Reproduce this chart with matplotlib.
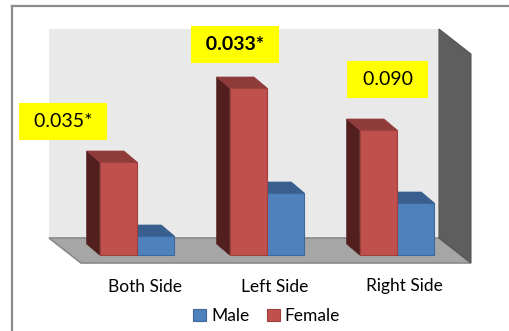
import matplotlib
matplotlib.use("Agg")
import matplotlib.pyplot as plt
from matplotlib.patches import Polygon, Rectangle
from matplotlib.lines import Line2D

plt.rcParams['font.family'] = ['Lato', 'DejaVu Sans']

# data (no value axis in the original, arbitrary units)
categories = ['Both Side', 'Left Side', 'Right Side']
female = [9.3, 16.7, 12.5]
male = [1.9, 6.2, 5.2]
p_labels = ['0.035*', '0.033*', '0.090']
p_bold = [False, True, False]

# colours
RED, RED_TOP, RED_SIDE, RED_EDGE = '#C0504D', '#8E3B39', '#521E1E', '#9E3F3C'
BLUE, BLUE_TOP, BLUE_SIDE, BLUE_EDGE = '#4F81BD', '#385F8E', '#2A4767', '#3B679C'

fig = plt.figure(figsize=(5.10, 3.31), dpi=100)
ax = fig.add_axes([0, 0, 1, 1])
ax.set_xlim(-1.0538, 2.8692)
ax.set_ylim(-7.6, 25.5)
ax.axis('off')

# outer chart frame (right/bottom edges are cut off in the original)
fig.add_artist(Line2D([12 / 510, 12 / 510], [0, 1 - 6 / 331], color='#8C8C8C', lw=1.6))
fig.add_artist(Line2D([12 / 510, 1], [1 - 6 / 331, 1 - 6 / 331], color='#8C8C8C', lw=1.6))

# 3d box: back wall, floor, right wall
wx0, wx1, wy0, wy1 = -0.677, 2.323, 1.7, 22.6
fdx, fdy = 0.246, -2.5
ax.add_patch(Rectangle((wx0, wy0), wx1 - wx0, wy1 - wy0, facecolor='#E9E9E9',
                       edgecolor='none', zorder=1))
ax.add_patch(Polygon([(wx0, wy0), (wx1, wy0), (wx1 + fdx, wy0 + fdy), (wx0 + fdx, wy0 + fdy)],
                     closed=True, facecolor='#A6A6A6', edgecolor='#8A8A8A', lw=1.2, zorder=2))
ax.add_patch(Polygon([(wx1, wy1), (wx1 + fdx, wy1 + fdy), (wx1 + fdx, wy0 + fdy), (wx1, wy0)],
                     closed=True, facecolor='#5E5E5E', edgecolor='#555555', lw=0.8, zorder=2))

# bars
w = 0.287
ddx, ddy = -0.1, 1.1
pos = list(range(len(categories)))


def bar3d(x0, h, front, top, side, edge, z):
    ax.bar(x0, h, width=w, align='edge', color=front, edgecolor=edge, lw=0.8, zorder=z + 0.2)
    ax.add_patch(Polygon([(x0, h), (x0 + w, h), (x0 + w + ddx, h + ddy), (x0 + ddx, h + ddy)],
                         closed=True, facecolor=top, edgecolor=top, lw=0.5, zorder=z + 0.1))
    ax.add_patch(Polygon([(x0, 0), (x0, h), (x0 + ddx, h + ddy), (x0 + ddx, ddy)],
                         closed=True, facecolor=side, edgecolor=side, lw=0.5, zorder=z))


for i in pos:
    bar3d(i, male[i], BLUE, BLUE_TOP, BLUE_SIDE, BLUE_EDGE, 3)
    bar3d(i - w, female[i], RED, RED_TOP, RED_SIDE, RED_EDGE, 4)

# p-value boxes
label_xy = [(-0.569, 13.35), (0.754, 21.05), (1.927, 17.55)]
for (lx, ly), txt, b in zip(label_xy, p_labels, p_bold):
    ax.text(lx, ly, ' ' + txt + ' ', ha='center', va='center', fontsize=14,
            fontweight='bold' if b else 'normal', color='black', zorder=6,
            bbox=dict(boxstyle='square,pad=0.52', facecolor='#FFFF00', edgecolor='none'))

# category labels
for i in pos:
    ax.text(i + 0.06, -3.15, categories[i], ha='center', va='center', fontsize=12.5,
            color='black', zorder=6)

# legend
handles = [Rectangle((0, 0), 1, 1, facecolor=BLUE, edgecolor=BLUE_EDGE, lw=0.8),
           Rectangle((0, 0), 1, 1, facecolor=RED, edgecolor=RED_EDGE, lw=0.8)]
fig.legend(handles, ['Male', 'Female'], loc='center', bbox_to_anchor=(266.5 / 510, 1 - 316 / 331),
           ncol=2, frameon=False, fontsize=12.5, handlelength=0.75, handleheight=0.75,
           handletextpad=0.3, columnspacing=1.0, borderpad=0)

fig.savefig('out.png', dpi=100)
